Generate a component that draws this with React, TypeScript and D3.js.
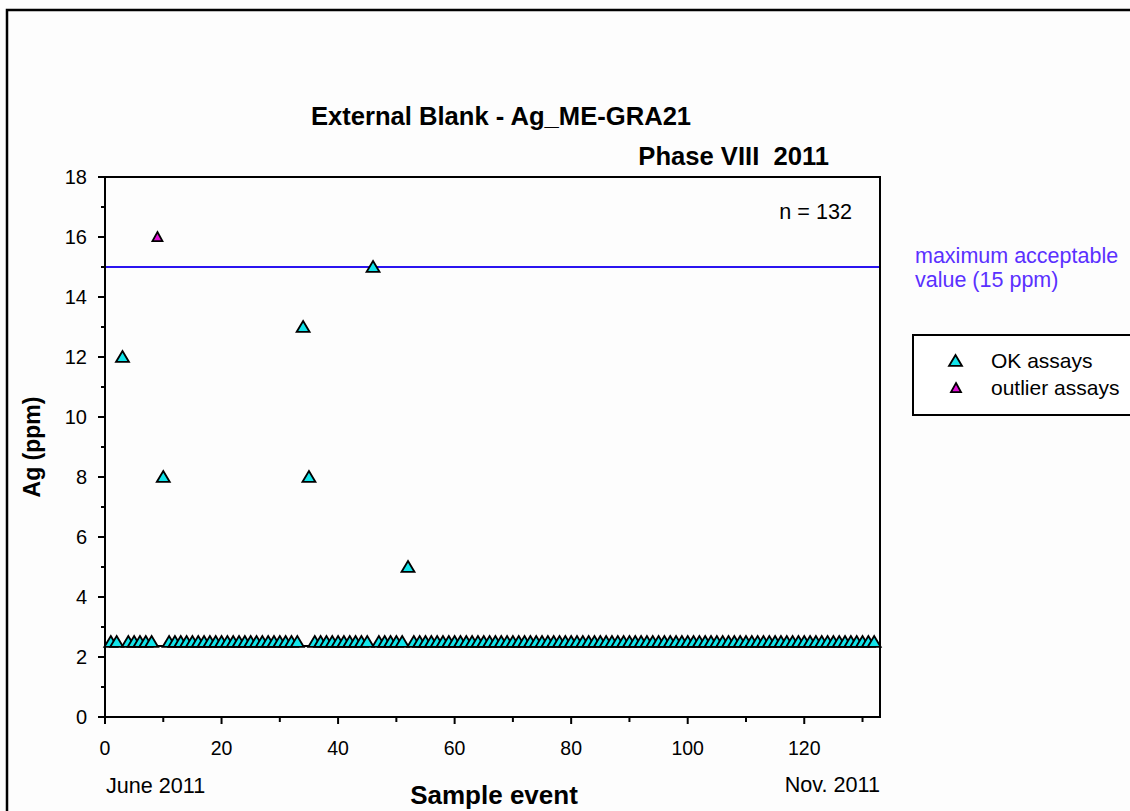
import React from "react";
import * as d3 from "d3";

// Sample event index (1..132) and Ag values (ppm)
const okEvents: number[] = [
  1, 2, 3, 4, 5, 6, 7, 8, 10, 11, 12, 13, 14, 15, 16, 17, 18, 19, 20,
  21, 22, 23, 24, 25, 26, 27, 28, 29, 30, 31, 32, 33, 34, 35, 36, 37, 38, 39, 40,
  41, 42, 43, 44, 45, 46, 47, 48, 49, 50, 51, 52, 53, 54, 55, 56, 57, 58, 59, 60,
  61, 62, 63, 64, 65, 66, 67, 68, 69, 70, 71, 72, 73, 74, 75, 76, 77, 78, 79, 80,
  81, 82, 83, 84, 85, 86, 87, 88, 89, 90, 91, 92, 93, 94, 95, 96, 97, 98, 99, 100,
  101, 102, 103, 104, 105, 106, 107, 108, 109, 110, 111, 112, 113, 114, 115, 116, 117, 118, 119, 120,
  121, 122, 123, 124, 125, 126, 127, 128, 129, 130, 131, 132,
];
const okValues: number[] = [
  2.5, 2.5, 12, 2.5, 2.5, 2.5, 2.5, 2.5, 8, 2.5, 2.5, 2.5, 2.5, 2.5, 2.5, 2.5, 2.5, 2.5, 2.5,
  2.5, 2.5, 2.5, 2.5, 2.5, 2.5, 2.5, 2.5, 2.5, 2.5, 2.5, 2.5, 2.5, 13, 8, 2.5, 2.5, 2.5, 2.5, 2.5,
  2.5, 2.5, 2.5, 2.5, 2.5, 15, 2.5, 2.5, 2.5, 2.5, 2.5, 5, 2.5, 2.5, 2.5, 2.5, 2.5, 2.5, 2.5, 2.5,
  2.5, 2.5, 2.5, 2.5, 2.5, 2.5, 2.5, 2.5, 2.5, 2.5, 2.5, 2.5, 2.5, 2.5, 2.5, 2.5, 2.5, 2.5, 2.5, 2.5,
  2.5, 2.5, 2.5, 2.5, 2.5, 2.5, 2.5, 2.5, 2.5, 2.5, 2.5, 2.5, 2.5, 2.5, 2.5, 2.5, 2.5, 2.5, 2.5, 2.5,
  2.5, 2.5, 2.5, 2.5, 2.5, 2.5, 2.5, 2.5, 2.5, 2.5, 2.5, 2.5, 2.5, 2.5, 2.5, 2.5, 2.5, 2.5, 2.5, 2.5,
  2.5, 2.5, 2.5, 2.5, 2.5, 2.5, 2.5, 2.5, 2.5, 2.5, 2.5, 2.5,
];
const outlierEvents: number[] = [9];
const outlierValues: number[] = [16];

const maxAcceptable = 15;
const detectionLine = 2.37;
const yMajorTicks: number[] = [0, 2, 4, 6, 8, 10, 12, 14, 16, 18];
const yMinorTicks: number[] = [1, 3, 5, 7, 9, 11, 13, 15, 17];
const xMajorTicks: number[] = [0, 20, 40, 60, 80, 100, 120];
const xMinorTicks: number[] = [10, 30, 50, 70, 90, 110, 130];

const FONT = "'Liberation Sans', Arial, sans-serif";
const CYAN = "#12e4ea";
const MAGENTA = "#e012d6";

function tri(cx: number, cy: number, w: number, h: number) {
  const top = cy - h * 0.55;
  const bot = cy + h * 0.45;
  return `M${cx},${top}L${cx + w / 2},${bot}L${cx - w / 2},${bot}Z`;
}

export default function App() {
  const x = d3.scaleLinear().domain([0, 133]).range([105, 880]);
  const y = d3.scaleLinear().domain([0, 18]).range([717, 177]);
  const [x0, x1] = x.range();
  const [yb, yt] = y.range();

  return (
    <div style={{ position: "absolute", left: 0, top: 0 }}>
      <svg width={1130} height={811} style={{ display: "block", background: "#fdfdfd" }} fontFamily={FONT}>
        {/* outer frame */}
        <path d="M7,811V10H1130" fill="none" stroke="#000" strokeWidth={2.5} />

        {/* titles */}
        <text x={501} y={125} textAnchor="middle" fontSize={25.6} fontWeight="bold">
          External Blank - Ag_ME-GRA21
        </text>
        <text x={829} y={165} textAnchor="end" fontSize={25.6} fontWeight="bold" style={{ whiteSpace: "pre" }}>
          {"Phase VIII  2011"}
        </text>

        {/* detection / baseline line */}
        <line x1={x0} x2={x1} y1={y(detectionLine)} y2={y(detectionLine)} stroke="#000" strokeWidth={2} />

        {/* max acceptable line */}
        <line x1={x0} x2={x1} y1={y(maxAcceptable)} y2={y(maxAcceptable)} stroke="#2a14f0" strokeWidth={2} />

        {/* OK points */}
        {okEvents.map((e, i) => (
          <path key={"ok" + i} d={tri(x(e), y(okValues[i]), 13, 11)} fill={CYAN} stroke="#000" strokeWidth={1.8} />
        ))}
        {/* outliers */}
        {outlierEvents.map((e, i) => (
          <path key={"out" + i} d={tri(x(e), y(outlierValues[i]), 10, 9)} fill={MAGENTA} stroke="#000" strokeWidth={1.8} />
        ))}

        {/* plot frame */}
        <rect x={x0} y={yt} width={x1 - x0} height={yb - yt} fill="none" stroke="#000" strokeWidth={2} />

        {/* y ticks */}
        {yMajorTicks.map((t) => (
          <g key={"ym" + t}>
            <line x1={x0 - 7} x2={x0} y1={y(t)} y2={y(t)} stroke="#000" strokeWidth={2} />
            <text x={87} y={y(t) + 7} textAnchor="end" fontSize={20}>{t}</text>
          </g>
        ))}
        {yMinorTicks.map((t) => (
          <line key={"yn" + t} x1={x0 - 4} x2={x0} y1={y(t)} y2={y(t)} stroke="#000" strokeWidth={2} />
        ))}

        {/* x ticks */}
        {xMajorTicks.map((t) => (
          <g key={"xm" + t}>
            <line x1={x(t)} x2={x(t)} y1={yb} y2={yb + 7} stroke="#000" strokeWidth={2} />
            <text x={x(t)} y={yb + 38} textAnchor="middle" fontSize={19.5}>{t}</text>
          </g>
        ))}
        {xMinorTicks.map((t) => (
          <line key={"xn" + t} x1={x(t)} x2={x(t)} y1={yb} y2={yb + 5} stroke="#000" strokeWidth={2} />
        ))}

        {/* axis titles */}
        <text x={494} y={804} textAnchor="middle" fontSize={26} fontWeight="bold">Sample event</text>
        <text transform={`translate(40,447) rotate(-90)`} textAnchor="middle" fontSize={23} fontWeight="bold">Ag (ppm)</text>
        <text x={106} y={793} fontSize={21.6}>June 2011</text>
        <text x={880} y={792} textAnchor="end" fontSize={21.6}>Nov. 2011</text>

        {/* n */}
        <text x={852} y={219} textAnchor="end" fontSize={21.6}>n = 132</text>

        {/* annotation */}
        <text x={915} y={263} fontSize={21.5} fill="#5a30ff">maximum acceptable</text>
        <text x={915} y={287} fontSize={21.5} fill="#5a30ff">value (15 ppm)</text>

        {/* legend */}
        <rect x={913} y={335} width={230} height={80} fill="#fff" stroke="#000" strokeWidth={2} />
        <path d={tri(955.5, 361, 13, 11)} fill={CYAN} stroke="#000" strokeWidth={1.8} />
        <text x={991} y={368} fontSize={21}>OK assays</text>
        <path d={tri(956, 388, 10, 9)} fill={MAGENTA} stroke="#000" strokeWidth={1.8} />
        <text x={991} y={395} fontSize={21}>outlier assays</text>
      </svg>
    </div>
  );
}
